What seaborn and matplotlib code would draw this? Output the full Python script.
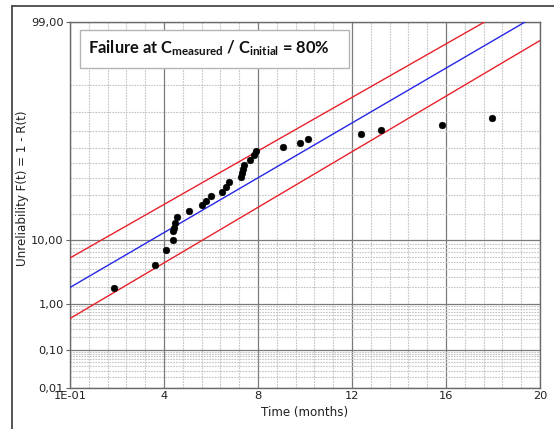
import numpy as np
import pandas as pd
import matplotlib
matplotlib.use("Agg")
import matplotlib.pyplot as plt
import seaborn as sns
from statistics import NormalDist
from matplotlib.ticker import FixedLocator
from matplotlib.lines import Line2D
from matplotlib.patches import Rectangle

# ---------------- data ----------------
time_months = [1.89, 3.60, 4.09, 4.37, 4.37, 4.44, 4.48, 4.54, 5.06, 5.60,
               5.80, 5.99, 6.46, 6.63, 6.78, 7.28, 7.32, 7.36, 7.39, 7.67,
               7.82, 7.90, 9.05, 9.79, 10.12, 12.37, 13.23, 15.84, 17.96]
unreliability_pct = [1.90, 4.62, 7.41, 10.10, 12.88, 14.21, 15.87, 18.52, 21.48, 24.13,
                     26.60, 29.15, 31.70, 34.71, 37.56, 40.72, 43.57, 46.18, 48.81, 51.65,
                     54.93, 57.73, 60.30, 62.63, 65.54, 68.30, 70.85, 73.60, 76.91]

# fitted normal model (mean, std in months) and confidence bounds
fit_mu, fit_sigma = 9.09, 4.416
upper_mu, upper_sigma = 7.11, 4.525
lower_mu, lower_sigma = 11.20, 4.356

y_major = [0.01, 0.1, 1, 10, 99]
y_major_labels = ["0,01", "0,10", "1,00", "10,00", "99,00"]
y_minor = ([0.02, 0.03, 0.04, 0.05, 0.06, 0.07, 0.08, 0.09]
           + [0.2, 0.3, 0.4, 0.5, 0.6, 0.7, 0.8, 0.9]
           + [2, 3, 4, 5, 6, 7, 8, 9]
           + [20, 30, 40, 50, 60, 70, 80, 90])
x_major = [0, 4, 8, 12, 16, 20]
x_major_labels = ["1E-01", "4", "8", "12", "16", "20"]
x_minor_step = 0.8

title_text = r"Failure at C$_{\mathrm{measured}}$ / C$_{\mathrm{initial}}$ = 80%"
x_label = "Time (months)"
y_label = "Unreliability F(t) = 1 - R(t)"

# ---------------- style ----------------
sns.set_style("white")
plt.rcParams["font.family"] = ["DejaVu Sans"]
plt.rcParams["mathtext.fontset"] = "custom"
plt.rcParams["mathtext.rm"] = "Lato:bold"
plt.rcParams["mathtext.it"] = "Lato:bold:italic"
plt.rcParams["mathtext.bf"] = "Lato:bold"

_nd = NormalDist()
_ppf = np.vectorize(_nd.inv_cdf, otypes=[float])
_cdf = np.vectorize(_nd.cdf, otypes=[float])


def fwd(p):
    p = np.clip(np.asarray(p, dtype=float) / 100.0, 1e-9, 1 - 1e-9)
    return _ppf(p)


def inv(z):
    return _cdf(np.asarray(z, dtype=float)) * 100.0


W, H = 554, 429
fig = plt.figure(figsize=(W / 100, H / 100), dpi=100)
ax = fig.add_axes([70 / W, 1 - 388 / H, 470 / W, 366 / H])
ax.set_yscale("function", functions=(fwd, inv))

# model lines
t_line = np.linspace(0, 20, 300)
lines = pd.DataFrame({
    "t": np.concatenate([t_line] * 3),
    "F": np.concatenate([
        inv((t_line - upper_mu) / upper_sigma),
        inv((t_line - fit_mu) / fit_sigma),
        inv((t_line - lower_mu) / lower_sigma),
    ]),
    "curve": ["upper"] * len(t_line) + ["fit"] * len(t_line) + ["lower"] * len(t_line),
})
sns.lineplot(data=lines, x="t", y="F", hue="curve", units="curve", estimator=None,
             palette={"upper": "#e8212b", "fit": "#2626e6", "lower": "#e8212b"},
             linewidth=1.0, legend=False, ax=ax, zorder=3, sort=False)

pts = pd.DataFrame({"t": time_months, "F": unreliability_pct})
sns.scatterplot(data=pts, x="t", y="F", color="black", s=24, edgecolor="black",
                linewidth=0.3, ax=ax, zorder=4)

ax.set_xlim(0, 20)
ax.set_ylim(0.01, 99)

ax.set_xticks(x_major)
ax.set_xticklabels(x_major_labels)
ax.xaxis.set_minor_locator(FixedLocator(np.arange(0, 20.001, x_minor_step)))
ax.set_yticks(y_major)
ax.set_yticklabels(y_major_labels)
ax.yaxis.set_minor_locator(FixedLocator(y_minor))

ax.tick_params(which="major", length=3, width=0.8, color="#606060",
               labelsize=8.2, labelcolor="#202020", pad=1.5)
ax.tick_params(which="minor", length=0)
ax.tick_params(axis="y", which="major", left=True)
ax.tick_params(axis="x", which="major", bottom=True, length=0, pad=2)

ax.grid(which="minor", color="#c4c4c4", linestyle=(0, (1.5, 1.0)), linewidth=0.8, zorder=0)
ax.grid(which="major", color="#7a7a7a", linestyle="-", linewidth=0.9, zorder=1)
ax.set_axisbelow(True)

for s in ax.spines.values():
    s.set_color("#6a6a6a")
    s.set_linewidth(1.0)

ax.set_xlabel(x_label, fontsize=8.6, color="#202020")
ax.set_ylabel(y_label, fontsize=8.6, color="#202020")
ax.xaxis.set_label_coords(0.5, -0.05)
ax.yaxis.set_label_coords(-0.088, 0.545)

# title box
fig.add_artist(Rectangle((80 / W, 1 - 68 / H), (349 - 80) / W, (68 - 30) / H,
                         transform=fig.transFigure, facecolor="white",
                         edgecolor="#b4b4b4", linewidth=1.0, zorder=5))
fig.text(88 / W, 1 - 48 / H, title_text, fontsize=11.9, fontweight="bold",
         family="Lato", color="#111111", va="center", ha="left", zorder=6)

# outer frame
fig.add_artist(Line2D([12 / W, 12 / W], [0, 1 - 6 / H], transform=fig.transFigure,
                      color="#3a3a3a", linewidth=1.2))
fig.add_artist(Line2D([12 / W, 1], [1 - 6 / H, 1 - 6 / H], transform=fig.transFigure,
                      color="#3a3a3a", linewidth=1.2))

fig.savefig("out.png", dpi=100)
